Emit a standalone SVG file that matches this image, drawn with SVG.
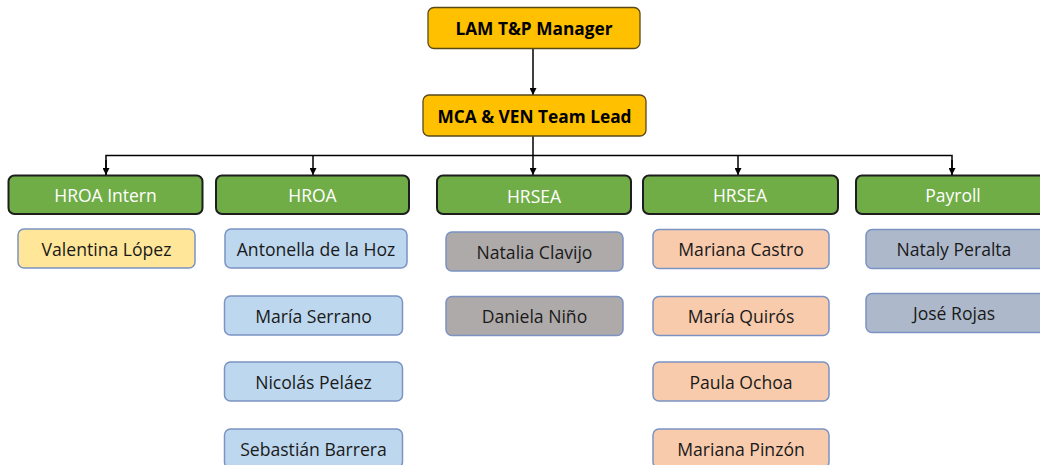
<svg xmlns="http://www.w3.org/2000/svg" width="1040" height="465" viewBox="0 0 1040 465">
<defs>
<marker id="arr" viewBox="0 0 10 10" refX="10" refY="5" markerWidth="7" markerHeight="7" orient="auto" markerUnits="userSpaceOnUse">
<path d="M0,0 L10,5 L0,10 z" fill="#000"/>
</marker>
<style>
text{font-family:"Open Sans","Noto Sans","Liberation Sans",sans-serif;text-anchor:middle;dominant-baseline:central;}
.top rect{fill:#FFC000;stroke:#5a4a1a;stroke-width:1.3;}
.top text{font-weight:bold;font-size:17.3px;fill:#000;}
.team rect{fill:#70AD47;stroke:#1e1e1e;stroke-width:2;}
.team text{font-size:17.5px;fill:#fff;}
.p rect{stroke:#7b93c2;stroke-width:1.5;}
.p text{font-size:17.6px;fill:#1a1a1a;}
.y rect{fill:#FFE699;}
.b rect{fill:#BDD7EE;}
.g rect{fill:#AEAAAA;}
.o rect{fill:#F8CBAD;}
.s rect{fill:#ADB9CA;}
.c{fill:none;stroke:#000;stroke-width:1.5;}
</style>
</defs>
<rect width="1040" height="465" fill="#fff"/>
<g id="connectors">
<line class="c" x1="533" y1="49" x2="533" y2="95" marker-end="url(#arr)"/>
<line class="c" x1="533" y1="136" x2="533" y2="175" marker-end="url(#arr)"/>
<polyline class="c" points="106,175 106,155.5 952,155.5 952,175"/>
<line class="c" x1="106" y1="160" x2="106" y2="175" marker-end="url(#arr)"/>
<line class="c" x1="952" y1="160" x2="952" y2="175" marker-end="url(#arr)"/>
<line class="c" x1="313" y1="155.5" x2="313" y2="175" marker-end="url(#arr)"/>
<line class="c" x1="738" y1="155.5" x2="738" y2="175" marker-end="url(#arr)"/>
</g>
<g id="lam" class="top"><rect x="428" y="7.5" width="212" height="41" rx="6"/><text x="534" y="28">LAM T&amp;P Manager</text></g>
<g id="mca" class="top"><rect x="423" y="95" width="223" height="41" rx="6"/><text x="534.5" y="116">MCA &amp; VEN Team Lead</text></g>
<g id="hroa-intern" class="team"><rect x="8.5" y="175.5" width="194" height="38.5" rx="6"/><text x="105.5" y="195">HROA Intern</text></g>
<g id="hroa" class="team"><rect x="216" y="175.5" width="193" height="38.5" rx="6"/><text x="312.5" y="195">HROA</text></g>
<g id="hrsea1" class="team"><rect x="437" y="175.5" width="194" height="38.5" rx="6"/><text x="534" y="196">HRSEA</text></g>
<g id="hrsea2" class="team"><rect x="643" y="175.5" width="195" height="38.5" rx="6"/><text x="740" y="195">HRSEA</text></g>
<g id="payroll" class="team"><rect x="856" y="175.5" width="196" height="38.5" rx="6"/><text x="953" y="195">Payroll</text></g>
<g id="valentina" class="p y"><rect x="18" y="229" width="177" height="39" rx="6"/><text x="106.5" y="249">Valentina López</text></g>
<g id="antonella" class="p b"><rect x="225" y="229" width="182" height="39" rx="6"/><text x="316" y="249">Antonella de la Hoz</text></g>
<g id="maria-serrano" class="p b"><rect x="224.5" y="296" width="178" height="39" rx="6"/><text x="313.5" y="316">María Serrano</text></g>
<g id="nicolas" class="p b"><rect x="224.5" y="362" width="178" height="39" rx="6"/><text x="313.5" y="382">Nicolás Peláez</text></g>
<g id="sebastian" class="p b"><rect x="224.5" y="429" width="178" height="39" rx="6"/><text x="313.5" y="449">Sebastián Barrera</text></g>
<g id="natalia" class="p g"><rect x="446" y="232" width="177" height="39" rx="6"/><text x="534.5" y="252">Natalia Clavijo</text></g>
<g id="daniela" class="p g"><rect x="446" y="296.5" width="177" height="39" rx="6"/><text x="534.5" y="316">Daniela Niño</text></g>
<g id="mariana-castro" class="p o"><rect x="653" y="229.5" width="176" height="39" rx="6"/><text x="741" y="249">Mariana Castro</text></g>
<g id="maria-quiros" class="p o"><rect x="653" y="296.5" width="176" height="39" rx="6"/><text x="741" y="316">María Quirós</text></g>
<g id="paula" class="p o"><rect x="653" y="362" width="176" height="39" rx="6"/><text x="741" y="382">Paula Ochoa</text></g>
<g id="mariana-pinzon" class="p o"><rect x="653" y="429" width="176" height="39" rx="6"/><text x="741" y="449">Mariana Pinzón</text></g>
<g id="nataly" class="p s"><rect x="866" y="229.5" width="180" height="39" rx="6"/><text x="954" y="249">Nataly Peralta</text></g>
<g id="jose" class="p s"><rect x="866" y="293.5" width="180" height="39" rx="6"/><text x="954" y="313">José Rojas</text></g>
</svg>
